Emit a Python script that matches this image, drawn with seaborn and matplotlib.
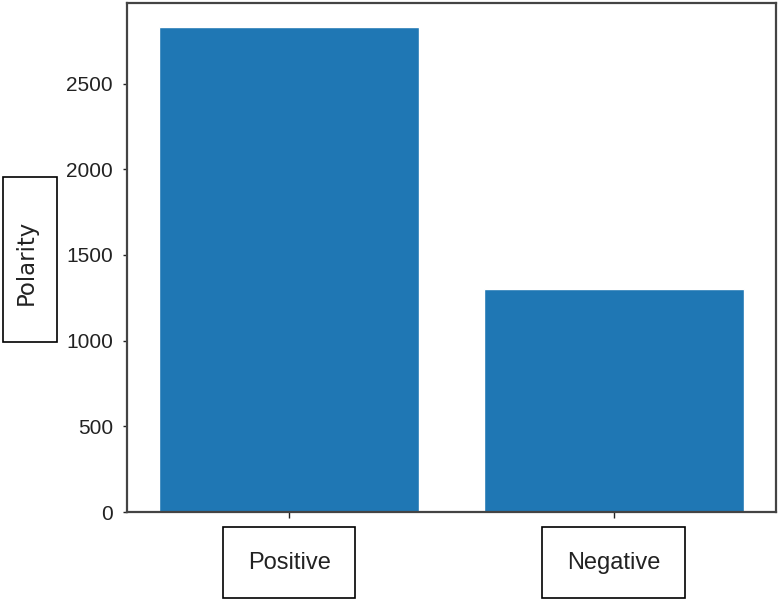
import numpy as np
import pandas as pd
import matplotlib
matplotlib.use('Agg')
import matplotlib.pyplot as plt
from matplotlib.patches import Rectangle
import seaborn as sns

# data
polarity = ['Positive', 'Negative']
counts = [2830, 1302]

sns.set_style('white')
plt.rcParams['font.family'] = ['Liberation Sans', 'DejaVu Sans']

df = pd.DataFrame({'polarity': polarity, 'count': counts})

fig = plt.figure(figsize=(7.78, 5.99), dpi=100)
ax = fig.add_axes([127 / 778, 1 - 512 / 599, 649 / 778, 509 / 599])

sns.barplot(data=df, x='polarity', y='count', color='#1f77b4', saturation=1,
            width=0.8, errorbar=None, ax=ax)

ax.set_xlim(-0.5, 1.5)
ax.set_ylim(0, 2970)
ax.set_yticks(np.arange(0, 2501, 500))
ax.tick_params(axis='y', labelsize=15, length=3, width=1, pad=7, left=True, colors='#222222')
ax.tick_params(axis='x', labelsize=17, length=4, width=1, bottom=True, pad=24.5, colors='#222222')
for lab in ax.get_xticklabels():
    lab.set_bbox(dict(boxstyle='square,pad=1.05', fc='white', ec='black', lw=1.2))
for sp in ax.spines.values():
    sp.set_color('#444444')
    sp.set_linewidth(1.6)

ax.set_xlabel('')
ax.set_ylabel('Polarity', fontsize=16.5, family=['DejaVu Sans'], color='#222222')
ax.yaxis.set_label_coords(-0.137, 0.49)
fig.patches.append(Rectangle((3 / 778, 1 - 342 / 599), 54 / 778, 165 / 599,
                             transform=fig.transFigure, fill=False, ec='black', lw=1.2))

fig.savefig('out.png', dpi=100)
